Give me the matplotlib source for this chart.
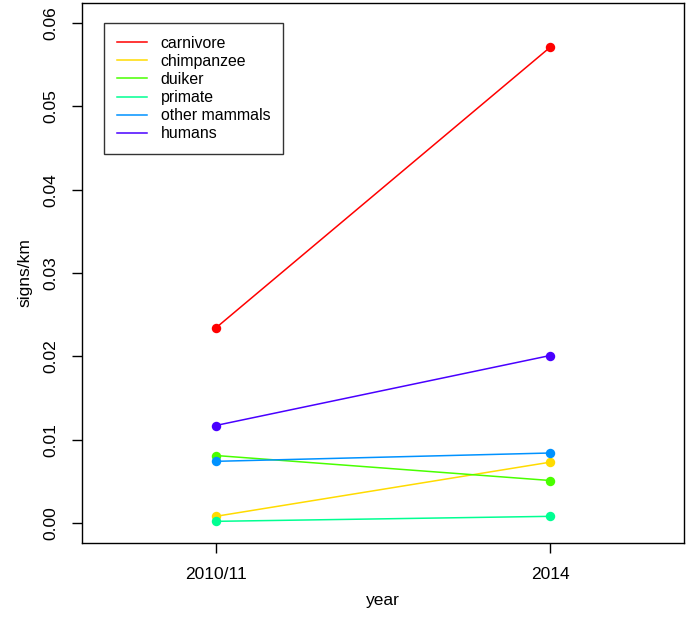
import matplotlib.pyplot as plt

years = ["2010/11", "2014"]
species = ["carnivore", "chimpanzee", "duiker", "primate", "other mammals", "humans"]
colors = ["#FF0000", "#FFDB00", "#49FF00", "#00FF92", "#0092FF", "#4900FF"]

carnivore = [0.0234, 0.0571]
chimpanzee = [0.0008, 0.0073]
duiker = [0.0081, 0.0051]
primate = [0.0002, 0.0008]
other_mammals = [0.0074, 0.0084]
humans = [0.0117, 0.0201]
values = [carnivore, chimpanzee, duiker, primate, other_mammals, humans]

plt.rcParams["font.family"] = ["Liberation Sans", "DejaVu Sans"]

fig = plt.figure(figsize=(6.86, 6.28), dpi=100)
# plot box: x 82..684, y 3..543 px
ax = fig.add_axes([82 / 686, 85 / 628, 602 / 686, 540 / 628])

x = [1, 2]
for name, vals, c in zip(species, values, colors):
    ax.plot(x, vals, color=c, lw=1.1, label=name)
    ax.plot(x, vals, "o", color=c, ms=6.8, mec="none")

ax.set_xlim(0.6, 2.4)
ax.set_ylim(-0.0024, 0.0624)
ax.set_xticks(x)
ax.set_xticklabels(years)
ax.set_yticks([0, 0.01, 0.02, 0.03, 0.04, 0.05, 0.06])
ax.set_yticklabels(["0.00", "0.01", "0.02", "0.03", "0.04", "0.05", "0.06"],
                   rotation=90, va="center")
ax.tick_params(direction="out", length=7.2, width=1, labelsize=12.5)
ax.tick_params(axis="x", pad=10)
ax.tick_params(axis="y", pad=10)
for s in ax.spines.values():
    s.set_linewidth(1)

fig.text(25 / 686, 1 - 273 / 628, "signs/km", rotation=90, ha="center", va="center", fontsize=12.5)
fig.text(383 / 686, 1 - 600 / 628, "year", ha="center", va="center", fontsize=12.5)

leg = ax.legend(loc="upper left", bbox_to_anchor=(22 / 602, 1 - 20 / 540),
                fontsize=11.4, frameon=True, fancybox=False, handlelength=1.9,
                handletextpad=0.88, labelspacing=0.2, borderpad=0.8, borderaxespad=0)
leg.get_frame().set_edgecolor("black")
leg.get_frame().set_linewidth(1)

fig.savefig("out.png", dpi=100)
